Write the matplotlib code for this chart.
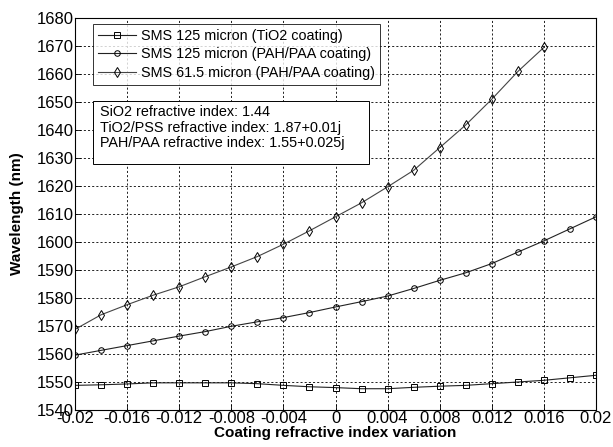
import matplotlib
matplotlib.use("Agg")
import matplotlib.pyplot as plt
from matplotlib.patches import Rectangle

plt.rcParams['font.family'] = ['Liberation Sans', 'DejaVu Sans']

x_tio2 = [-0.02, -0.018, -0.016, -0.014, -0.012, -0.010, -0.008, -0.006, -0.004, -0.002, 0.0,
          0.002, 0.004, 0.006, 0.008, 0.010, 0.012, 0.014, 0.016, 0.018, 0.020]
y_tio2 = [1548.8, 1549.0, 1549.3, 1549.7, 1549.7, 1549.7, 1549.7, 1549.4, 1548.8, 1548.3, 1548.0,
          1547.6, 1547.6, 1548.1, 1548.5, 1548.8, 1549.4, 1550.0, 1550.6, 1551.5, 1552.4]

x_pah125 = x_tio2
y_pah125 = [1559.6, 1561.3, 1563.0, 1564.7, 1566.4, 1568.0, 1569.9, 1571.5, 1573.0, 1574.8, 1576.8,
            1578.7, 1580.7, 1583.4, 1586.3, 1589.0, 1592.3, 1596.4, 1600.4, 1604.7, 1609.0]

x_pah615 = [-0.02, -0.018, -0.016, -0.014, -0.012, -0.010, -0.008, -0.006, -0.004, -0.002, 0.0,
            0.002, 0.004, 0.006, 0.008, 0.010, 0.012, 0.014, 0.016]
y_pah615 = [1568.8, 1574.0, 1577.6, 1581.0, 1584.0, 1587.6, 1591.1, 1594.8, 1599.2, 1604.0, 1609.0,
            1614.0, 1619.7, 1625.6, 1633.7, 1641.8, 1651.0, 1660.9, 1669.5]

labels = ['SMS 125 micron (TiO2 coating)',
          'SMS 125 micron (PAH/PAA coating)',
          'SMS 61.5 micron (PAH/PAA coating)']
xticks = [-0.02, -0.016, -0.012, -0.008, -0.004, 0, 0.004, 0.008, 0.012, 0.016, 0.02]
xticklabels = ['-0.02', '-0.016', '-0.012', '-0.008', '-0.004', '0', '0.004', '0.008', '0.012', '0.016', '0.02']
yticks = list(range(1540, 1681, 10))
info = ('SiO2 refractive index: 1.44\n'
        'TiO2/PSS refractive index: 1.87+0.01j\n'
        'PAH/PAA refractive index: 1.55+0.025j')

W, H = 613, 447
fig = plt.figure(figsize=(W/100, H/100), dpi=100)
ax = fig.add_axes([75/W, 1 - 410/H, (596-75)/W, (410-18)/H])

mk = dict(markerfacecolor='none', markeredgecolor='black', markeredgewidth=0.7)
ax.plot(x_tio2, y_tio2, color='#222222', lw=0.8, marker='s', markersize=4, label=labels[0], **mk)
ax.plot(x_pah125, y_pah125, color='#222222', lw=0.8, marker='o', markersize=4, label=labels[1], **mk)
ax.plot(x_pah615, y_pah615, color='#444444', lw=0.8, marker='d', markersize=5.5, label=labels[2], **mk)

ax.set_xlim(-0.02, 0.02)
ax.set_ylim(1540, 1680)
ax.set_xticks(xticks)
ax.set_xticklabels(xticklabels)
ax.set_yticks(yticks)
ax.tick_params(direction='in', length=4, width=0.6, labelsize=12, pad=1, colors='black')
ax.tick_params(axis='x', pad=1)
ax.grid(True, linestyle=(0, (2.5, 2.5)), color='black', linewidth=0.6)
for s in ax.spines.values():
    s.set_linewidth(0.8)

ax.set_xlabel('Coating refractive index variation', fontsize=11, fontweight='bold')
ax.set_ylabel('Wavelength (nm)', fontsize=11, fontweight='bold')
ax.xaxis.set_label_coords(0.5, -(425.5-410)/392)
ax.yaxis.set_label_coords((24-75)/521, 0.5)

leg = ax.legend(loc='upper left', bbox_to_anchor=((93-75)/521, 1 - (24-18)/392), fontsize=10.4,
                frameon=True, fancybox=False, edgecolor='black', borderaxespad=0,
                handlelength=2.6, handletextpad=0.4, labelspacing=0.3, borderpad=0.35)
leg.get_frame().set_linewidth(0.7)

# info box (figure-pixel placement)
box = Rectangle((93/W, 1 - 164/H), (369-93)/W, (164-101)/H, transform=fig.transFigure,
                facecolor='white', edgecolor='black', linewidth=0.7, zorder=4)
fig.patches.append(box)
fig.text(100/W, 1 - 105/H, info, fontsize=10.4, va='top', ha='left', linespacing=1.15, zorder=5)

fig.savefig('out.png', dpi=100)
